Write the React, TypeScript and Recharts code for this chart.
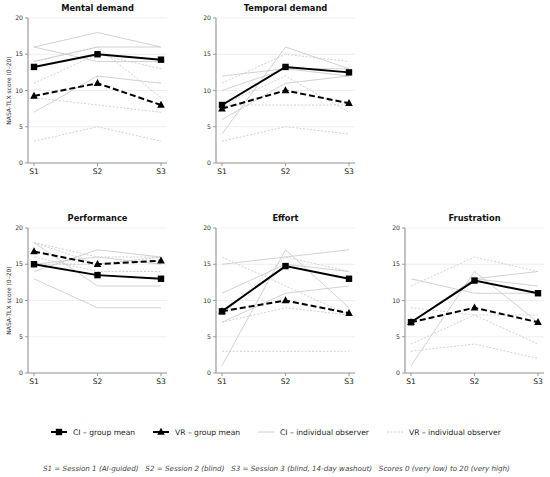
import React from 'react';
import { LineChart, Line, XAxis, YAxis, CartesianGrid } from 'recharts';

const SESSIONS = ['S1', 'S2', 'S3'];
const Y_TICKS = [0, 5, 10, 15, 20];

// group means per panel
const mentalCiMean = [13.25, 15, 14.25];
const mentalVrMean = [9.25, 11, 8];
const temporalCiMean = [8, 13.25, 12.5];
const temporalVrMean = [7.5, 10, 8.25];
const performanceCiMean = [15, 13.5, 13];
const performanceVrMean = [16.75, 15, 15.5];
const effortCiMean = [8.5, 14.75, 13];
const effortVrMean = [8.5, 10, 8.25];
const frustrationCiMean = [7, 12.75, 11];
const frustrationVrMean = [7, 9, 7];

// individual observers (S1, S2, S3)
const mentalCiObs = [[16, 18, 16], [16, 14, 14], [14, 16, 16], [7, 12, 11]];
const mentalVrObs = [[3, 5, 3], [9, 8, 7], [11, 15, 13], [14, 16, 9]];
const temporalCiObs = [[12, 13, 13], [10, 13, 12], [6, 11, 12], [4, 16, 13]];
const temporalVrObs = [[3, 5, 4], [11, 15, 14], [8, 8, 8], [8, 12, 7]];
const performanceCiObs = [[13, 9, 9], [18, 12, 12], [14, 17, 16], [15, 16, 15]];
const performanceVrObs = [[18, 16, 16], [16, 14, 14], [18, 15, 16], [15, 15, 16]];
const effortCiObs = [[15, 16, 17], [11, 15, 14], [1, 17, 9], [7, 11, 12]];
const effortVrObs = [[3, 3, 3], [16, 12, 8], [7, 9, 8], [8, 16, 14]];
const frustrationCiObs = [[13, 11, 11], [1, 14, 7], [7, 13, 14], [7, 13, 12]];
const frustrationVrObs = [[12, 16, 14], [3, 4, 2], [9, 8, 8], [4, 8, 4]];

const FONT = '"DejaVu Sans", sans-serif';
const OBS_GREY = '#c6c6c6';
const AXIS_GREY = '#9a9a9a';

function buildRows(ciMean: number[], vrMean: number[], ciObs: number[][], vrObs: number[][]) {
  return SESSIONS.map((s, i) => {
    const row: Record<string, any> = { session: s, ciMean: ciMean[i], vrMean: vrMean[i] };
    ciObs.forEach((o, k) => (row['ci' + k] = o[i]));
    vrObs.forEach((o, k) => (row['vr' + k] = o[i]));
    return row;
  });
}

const SquareDot = (props: any) => {
  const { cx, cy, index } = props;
  if (cx == null || cy == null) return null;
  return <rect key={'sq' + index} x={cx - 3.2} y={cy - 3.2} width={6.4} height={6.4} fill="#000" />;
};

const TriangleDot = (props: any) => {
  const { cx, cy, index } = props;
  if (cx == null || cy == null) return null;
  return (
    <polygon
      key={'tr' + index}
      points={`${cx},${cy - 4.2} ${cx + 3.8},${cy + 2.8} ${cx - 3.8},${cy + 2.8}`}
      fill="#000"
    />
  );
};

interface PanelProps {
  title: string;
  left: number;
  top: number;
  ciMean: number[];
  vrMean: number[];
  ciObs: number[][];
  vrObs: number[][];
  yLabel?: boolean;
}

function Panel({ title, left, top, ciMean, vrMean, ciObs, vrObs, yLabel }: PanelProps) {
  const data = buildRows(ciMean, vrMean, ciObs, vrObs);
  return (
    <div style={{ position: 'absolute', left, top, width: 175, height: 190 }}>
      <div
        style={{
          position: 'absolute',
          left: 28,
          width: 139,
          top: 3,
          textAlign: 'center',
          fontFamily: FONT,
          fontWeight: 'bold',
          fontSize: 8.3,
          color: '#111',
        }}
      >
        {title}
      </div>
      <LineChart width={175} height={190} data={data} margin={{ top: 18, right: 8, bottom: 5, left: 0 }}>
        <CartesianGrid vertical={false} stroke="#ebebeb" strokeWidth={0.8} />
        <XAxis
          dataKey="session"
          padding={{ left: 6, right: 6 }}
          height={22}
          stroke={AXIS_GREY}
          axisLine={{ stroke: AXIS_GREY, strokeWidth: 1.2 }}
          tickLine={{ stroke: AXIS_GREY }}
          tickSize={3}
          tickMargin={3}
          tick={{ fontSize: 7.6, fill: '#222', fontFamily: FONT }}
        />
        <YAxis
          width={28}
          domain={[0, 20]}
          ticks={Y_TICKS}
          type="number"
          allowDataOverflow
          stroke={AXIS_GREY}
          axisLine={{ stroke: AXIS_GREY, strokeWidth: 1.2 }}
          tickLine={{ stroke: AXIS_GREY }}
          tickSize={3}
          tickMargin={2}
          tick={{ fontSize: 6.2, fill: '#333', fontFamily: FONT }}
          label={
            yLabel
              ? {
                  content: (p: any) => {
                    const vb = p.viewBox || { y: 18, height: 145 };
                    const cy = vb.y + vb.height / 2;
                    return (
                      <text
                        x={8}
                        y={cy}
                        transform={`rotate(-90 8 ${cy})`}
                        textAnchor="middle"
                        dominantBaseline="central"
                        fontSize={6}
                        fontFamily={FONT}
                        fill="#333"
                      >
                        NASA-TLX score (0–20)
                      </text>
                    );
                  },
                }
              : undefined
          }
        />
        {ciObs.map((_, k) => (
          <Line
            key={'ci' + k}
            dataKey={'ci' + k}
            stroke={OBS_GREY}
            strokeWidth={0.8}
            dot={false}
            activeDot={false}
            isAnimationActive={false}
          />
        ))}
        {vrObs.map((_, k) => (
          <Line
            key={'vr' + k}
            dataKey={'vr' + k}
            stroke={OBS_GREY}
            strokeWidth={0.8}
            strokeDasharray="2 1.6"
            dot={false}
            activeDot={false}
            isAnimationActive={false}
          />
        ))}
        <Line
          dataKey="vrMean"
          stroke="#000"
          strokeWidth={2}
          strokeDasharray="6 3"
          dot={TriangleDot}
          activeDot={false}
          isAnimationActive={false}
        />
        <Line
          dataKey="ciMean"
          stroke="#000"
          strokeWidth={2}
          dot={SquareDot}
          activeDot={false}
          isAnimationActive={false}
        />
      </LineChart>
    </div>
  );
}

const legendText: React.CSSProperties = { fontFamily: FONT, fontSize: 7.6, color: '#222', marginLeft: 6, whiteSpace: 'nowrap' };

function LegendItem({ kind, label, left }: { kind: string; label: string; left: number }) {
  return (
    <div style={{ position: 'absolute', left, top: 0, display: 'flex', alignItems: 'center', height: 12 }}>
      <svg width={16} height={10} style={{ overflow: 'visible' }}>
        {kind === 'ciMean' && (
          <>
            <line x1={0} y1={5} x2={16} y2={5} stroke="#000" strokeWidth={2} />
            <rect x={4.8} y={1.8} width={6.4} height={6.4} fill="#000" />
          </>
        )}
        {kind === 'vrMean' && (
          <>
            <line x1={0} y1={5} x2={16} y2={5} stroke="#000" strokeWidth={2} />
            <polygon points="8,0.8 11.8,7.8 4.2,7.8" fill="#000" />
          </>
        )}
        {kind === 'ciObs' && <line x1={0} y1={5} x2={16} y2={5} stroke={OBS_GREY} strokeWidth={0.9} />}
        {kind === 'vrObs' && (
          <line x1={0} y1={5} x2={16} y2={5} stroke={OBS_GREY} strokeWidth={0.9} strokeDasharray="2 1.6" />
        )}
      </svg>
      <span style={legendText}>{label}</span>
    </div>
  );
}

export default function App() {
  return (
    <div style={{ position: 'absolute', left: 0, top: 0, width: 550, height: 477, background: '#fff' }}>
      <Panel title="Mental demand" left={0} top={0} ciMean={mentalCiMean} vrMean={mentalVrMean} ciObs={mentalCiObs} vrObs={mentalVrObs} yLabel />
      <Panel title="Temporal demand" left={188} top={0} ciMean={temporalCiMean} vrMean={temporalVrMean} ciObs={temporalCiObs} vrObs={temporalVrObs} />
      <Panel title="Performance" left={0} top={210} ciMean={performanceCiMean} vrMean={performanceVrMean} ciObs={performanceCiObs} vrObs={performanceVrObs} yLabel />
      <Panel title="Effort" left={188} top={210} ciMean={effortCiMean} vrMean={effortVrMean} ciObs={effortCiObs} vrObs={effortVrObs} />
      <Panel title="Frustration" left={377} top={210} ciMean={frustrationCiMean} vrMean={frustrationVrMean} ciObs={frustrationCiObs} vrObs={frustrationVrObs} />

      <div style={{ position: 'absolute', left: 0, width: 550, top: 426, height: 12 }}>
        <LegendItem kind="ciMean" label="CI – group mean" left={51} />
        <LegendItem kind="vrMean" label="VR – group mean" left={153} />
        <LegendItem kind="ciObs" label="CI – individual observer" left={258} />
        <LegendItem kind="vrObs" label="VR – individual observer" left={387} />
      </div>

      <div
        style={{
          position: 'absolute',
          left: 43,
          top: 463.5,
          fontFamily: FONT,
          fontStyle: 'italic',
          fontSize: 7.15,
          color: '#444',
          whiteSpace: 'pre',
        }}
      >
        {'S1 = Session 1 (AI-guided)   S2 = Session 2 (blind)   S3 = Session 3 (blind, 14-day washout)   Scores 0 (very low) to 20 (very high)'}
      </div>
    </div>
  );
}
